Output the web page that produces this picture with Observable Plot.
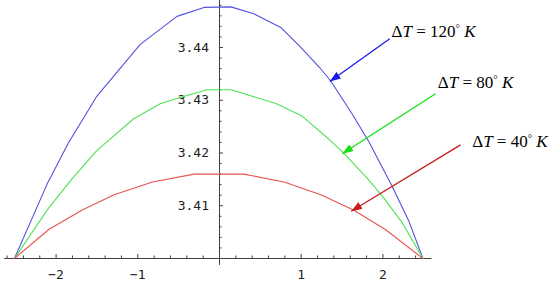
<!DOCTYPE html>
<html>
<head>
<meta charset="utf-8">
<script src="https://cdn.jsdelivr.net/npm/d3@7"></script>
<script src="https://cdn.jsdelivr.net/npm/@observablehq/plot@0.6"></script>
<style>
  html, body { margin: 0; padding: 0; background: #fff; }
  #chart svg { display: block; }
</style>
</head>
<body>
<div id="chart"></div>
<script>
// ---- data ----
const blueX  = [-2.51, -2.11, -1.85, -1.50, -0.97, -0.52, -0.19, 0.14, 0.42, 0.75, 0.99, 1.22, 1.36, 1.62, 1.83, 2.11, 2.32, 2.49];
const blueY  = [3.4000, 3.4141, 3.4219, 3.4308, 3.4406, 3.4459, 3.4476, 3.4477, 3.4464, 3.4438, 3.4401, 3.4363, 3.4337, 3.4275, 3.4221, 3.4138, 3.4070, 3.4000];
const greenX = [-2.51, -2.09, -1.80, -1.50, -1.05, -0.72, -0.40, -0.15, 0.14, 0.69, 1.01, 1.34, 1.50, 1.81, 2.01, 2.24, 2.49];
const greenY = [3.4000, 3.4096, 3.4152, 3.4205, 3.4265, 3.4294, 3.4309, 3.4320, 3.4320, 3.4294, 3.4270, 3.4226, 3.4203, 3.4152, 3.4115, 3.4067, 3.4000];
const redX   = [-2.51, -2.09, -1.68, -1.29, -0.82, -0.31, 0.30, 0.79, 1.24, 1.64, 2.03, 2.49];
const redY   = [3.4000, 3.4055, 3.4092, 3.4121, 3.4145, 3.4160, 3.4160, 3.4145, 3.4121, 3.4092, 3.4055, 3.4000];

const xTicks = [-2, -1, 1, 2];
const xTickLabels = ["\u22122", "\u22121", "1", "2"];
const xMinorTicks = [-2.6, -2.4, -2.2, -1.8, -1.6, -1.4, -1.2, -0.8, -0.6, -0.4, -0.2, 0.2, 0.4, 0.6, 0.8, 1.2, 1.4, 1.6, 1.8, 2.2, 2.4];
const yTicks = [3.41, 3.42, 3.43, 3.44];
const yTickLabels = ["3.41", "3.42", "3.43", "3.44"];
const yMinorTicks = [3.402, 3.404, 3.406, 3.408, 3.412, 3.414, 3.416, 3.418, 3.422, 3.424, 3.426, 3.428, 3.432, 3.434, 3.436, 3.438, 3.442, 3.444, 3.446, 3.448];

const xAxis = {y: 3.40, x1: -2.63, x2: 2.60};
const yAxis = {x: 0, y1: 3.3987, y2: 3.4489};

const labelValues = ["120", "80", "40"];
const labelX = [2.105, 2.672, 3.093];
const labelY = [3.44298, 3.43331, 3.42212];

const arrowX1 = [2.084, 2.644, 2.950];
const arrowY1 = [3.44165, 3.43122, 3.42155];
const arrowX2 = [1.350, 1.502, 1.612];
const arrowY2 = [3.43355, 3.41985, 3.40897];

const curveColors = ["#5252dc", "#52e052", "#e85252"];
const arrowColors = ["#1a1ae8", "#16e016", "#c81e1e"];
const axisColor = "#404040";

// ---- tables built from the arrays ----
const series = [
  ...blueX.map((x, i) => ({x, y: blueY[i], k: 0})),
  ...greenX.map((x, i) => ({x, y: greenY[i], k: 1})),
  ...redX.map((x, i) => ({x, y: redY[i], k: 2}))
];
const labels = labelValues.map((v, i) => ({x: labelX[i], y: labelY[i], t: `\u0394T = ${v}\u00B0 K`}));
const arrows = arrowX1.map((x1, i) => ({x1, y1: arrowY1[i], x2: arrowX2[i], y2: arrowY2[i], c: arrowColors[i]}));

const monoFont = "'DejaVu Sans Mono', monospace";
const serifFont = "'Liberation Serif', 'Times New Roman', serif";

const plot = Plot.plot({
  width: 551,
  height: 282,
  marginTop: 0, marginRight: 0, marginBottom: 0, marginLeft: 0,
  x: {domain: [-2.68054, 4.06365], axis: null},
  y: {domain: [3.39545, 3.44891], axis: null},
  style: {background: "white", overflow: "visible"},
  marks: [
    // axes
    Plot.ruleY([xAxis], {y: "y", x1: "x1", x2: "x2", stroke: axisColor, strokeWidth: 1}),
    Plot.ruleX([yAxis], {x: "x", y1: "y1", y2: "y2", stroke: axisColor, strokeWidth: 1}),
    // x ticks (pointing up)
    Plot.ruleX(xTicks, {x: d => d, y1: xAxis.y, y2: xAxis.y, insetTop: -4, stroke: axisColor}),
    Plot.ruleX(xMinorTicks, {x: d => d, y1: xAxis.y, y2: xAxis.y, insetTop: -2.5, stroke: axisColor}),
    // y ticks (pointing right)
    Plot.ruleY(yTicks, {y: d => d, x1: yAxis.x, x2: yAxis.x, insetRight: -4, stroke: axisColor}),
    Plot.ruleY(yMinorTicks, {y: d => d, x1: yAxis.x, x2: yAxis.x, insetRight: -2.5, stroke: axisColor}),
    // tick labels
    Plot.text(xTicks, {x: d => d, y: xAxis.y, text: (d, i) => xTickLabels[i], dy: 16, textAnchor: "middle", fontFamily: monoFont, fontSize: 13, fill: "#222"}),
    Plot.text(yTicks, {x: yAxis.x, y: d => d, text: (d, i) => yTickLabels[i], dx: -10.5, textAnchor: "end", fontFamily: monoFont, fontSize: 13, fill: "#222"}),
    // curves
    Plot.line(series, {x: "x", y: "y", z: "k", stroke: d => curveColors[d.k], strokeWidth: 1.1}),
    // arrows
    Plot.link(arrows, {x1: "x1", y1: "y1", x2: "x2", y2: "y2", stroke: "c", strokeWidth: 1.3}),
    // annotations
    Plot.text(labels, {x: "x", y: "y", text: "t", textAnchor: "start", fontFamily: serifFont, fontSize: 17, fill: "#000"})
  ]
});

// filled triangular arrowheads
const svg = d3.select(plot.tagName === "svg" ? plot : plot.querySelector("svg"));
const defs = svg.append("defs");
arrowColors.forEach((c, i) => {
  defs.append("marker")
    .attr("id", "ah" + i)
    .attr("viewBox", "0 -4 11 8")
    .attr("refX", 11).attr("refY", 0)
    .attr("markerUnits", "userSpaceOnUse")
    .attr("markerWidth", 11).attr("markerHeight", 8)
    .attr("orient", "auto")
    .append("path").attr("d", "M0,-4L11,0L0,4Z").attr("fill", c);
});
svg.selectAll('g[aria-label="link"] path').attr("marker-end", (d, i) => `url(#ah${i})`);

// italic T and K in the annotations
svg.selectAll("text").each(function() {
  const el = d3.select(this);
  const s = el.text();
  if (!s.startsWith("\u0394T")) return;
  const m = s.match(/= (\d+)/);
  const v = m ? m[1] : "";
  el.text("");
  el.append("tspan").text("\u0394");
  el.append("tspan").attr("font-style", "italic").text("T");
  el.append("tspan").text(" = " + v);
  el.append("tspan").attr("font-size", 11).attr("baseline-shift", 5).text("\u00B0");
  el.append("tspan").text(" ");
  el.append("tspan").attr("font-style", "italic").text("K");
});

document.getElementById("chart").appendChild(plot);
</script>
</body>
</html>
